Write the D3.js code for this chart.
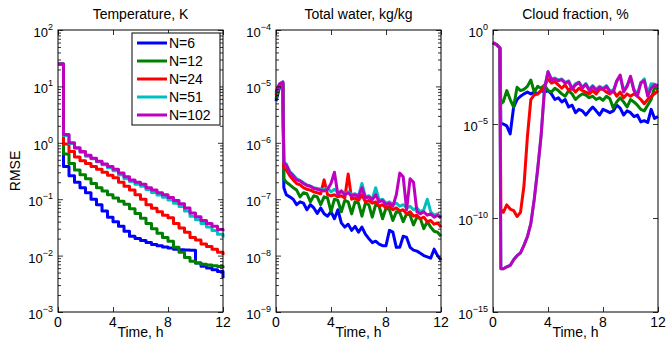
<!DOCTYPE html>
<html>
<head>
<meta charset="utf-8">
<script src="https://cdn.jsdelivr.net/npm/d3@7"></script>
<style>
body { margin: 0; background: #fff; }
text { font-family: "Liberation Sans", Arial, sans-serif; fill: #000; }
</style>
</head>
<body>
<script>
// Series labels and colours
var seriesNames = ["N=6", "N=12", "N=24", "N=51", "N=102"];
var seriesColors = ["#0000ff", "#008000", "#ff0000", "#00bfbf", "#bf00bf"];
var panelTitles = ["Temperature, K", "Total water, kg/kg", "Cloud fraction, %"];
var xTicks = [0, 4, 8, 12];

// Time grids (h)
var tTemp = [0, 0.4, 0.8, 1.2, 1.6, 2, 2.4, 2.8, 3.2, 3.6, 4, 4.4, 4.8, 5.2, 5.6, 6, 6.4, 6.8, 7.2, 7.6, 8, 8.4, 8.8,
  9.2, 9.6, 10, 10.4, 10.8, 11.2, 11.6, 12];
var tFine = [0, 0.25, 0.5, 0.57, 0.75, 1, 1.25, 1.5, 1.75, 2, 2.25, 2.5, 2.75, 3, 3.25, 3.5, 3.75, 4, 4.25, 4.5, 4.75, 5,
  5.25, 5.5, 5.75, 6, 6.25, 6.5, 6.75, 7, 7.25, 7.5, 7.75, 8, 8.25, 8.5, 8.75, 9, 9.25, 9.5, 9.75, 10, 10.25, 10.5, 10.75,
  11, 11.25, 11.5, 11.75, 12];

// Temperature RMSE, K
var tempN6 = [25, 0.38, 0.26, 0.2, 0.16, 0.13, 0.1, 0.08, 0.062, 0.048, 0.04, 0.033, 0.027, 0.022, 0.02, 0.0185, 0.017,
  0.0158, 0.015, 0.0142, 0.0136, 0.013, 0.0127, 0.0126, 0.0125, 0.0074, 0.0065, 0.006, 0.0056, 0.0052, 0.004];
var tempN12 = [25, 0.63, 0.43, 0.33, 0.27, 0.23, 0.19, 0.16, 0.14, 0.12, 0.105, 0.092, 0.081, 0.068, 0.056, 0.046, 0.037,
  0.03, 0.025, 0.021, 0.018, 0.014, 0.0115, 0.0093, 0.0079, 0.0074, 0.007, 0.0068, 0.0066, 0.0064, 0.006];
var tempN24 = [25, 0.95, 0.7, 0.56, 0.48, 0.43, 0.38, 0.34, 0.3, 0.265, 0.24, 0.2, 0.17, 0.145, 0.12, 0.1, 0.08, 0.069,
  0.06, 0.052, 0.047, 0.037, 0.031, 0.026, 0.021, 0.019, 0.016, 0.0145, 0.013, 0.0115, 0.0102];
var tempN51 = [25, 1.35, 0.97, 0.8, 0.68, 0.58, 0.52, 0.46, 0.41, 0.36, 0.32, 0.27, 0.23, 0.205, 0.185, 0.17, 0.148, 0.132,
  0.119, 0.108, 0.097, 0.085, 0.074, 0.062, 0.05, 0.043, 0.037, 0.032, 0.028, 0.024, 0.021];
var tempN102 = [25, 1.4, 1.0, 0.82, 0.7, 0.6, 0.53, 0.47, 0.42, 0.38, 0.34, 0.29, 0.25, 0.22, 0.2, 0.185, 0.16, 0.145,
  0.13, 0.12, 0.107, 0.095, 0.083, 0.07, 0.057, 0.049, 0.042, 0.037, 0.033, 0.029, 0.027];

// Total water RMSE, kg/kg
var waterN6 = [5.5e-6, 9.5e-6, 1.1e-5, 1.6e-7, 1.2e-7, 1.1e-7, 1.0e-7, 8e-8, 9e-8, 8.5e-8, 6.5e-8, 8e-8, 7e-8, 5.6e-8, 7e-8, 5.5e-8,
  5e-8, 6e-8, 4.5e-8, 6.5e-8, 3.8e-8, 3.2e-8, 3.6e-8, 2.8e-8, 3.3e-8, 2.6e-8, 3.2e-8, 2.4e-8, 2e-8, 1.7e-8, 1.8e-8, 1.6e-8,
  1.5e-8, 1.5e-8, 2.8e-8, 2.6e-8, 1.4e-8, 1.4e-8, 2.2e-8, 2.1e-8, 1.4e-8, 1.25e-8, 1.2e-8, 1.1e-8, 1.0e-8, 9.5e-9, 9e-9,
  1.3e-8, 1.0e-8, 8.3e-9];
var waterN12 = [6e-6, 1.0e-5, 1.1e-5, 2.3e-7, 2.0e-7, 1.8e-7, 1.6e-7, 1.45e-7, 1.1e-7, 1.3e-7, 1.25e-7, 9e-8, 1.15e-7, 1.1e-7, 8e-8,
  1.1e-7, 1.05e-7, 6e-8, 1.0e-7, 9.5e-8, 6e-8, 9.5e-8, 9e-8, 5.5e-8, 9e-8, 8.5e-8, 5e-8, 8.5e-8, 8e-8, 4.8e-8, 8e-8, 7.5e-8,
  4.5e-8, 7e-8, 6.5e-8, 4.2e-8, 6e-8, 5.8e-8, 4e-8, 5.5e-8, 5.2e-8, 3.5e-8, 4.8e-8, 4.5e-8, 3e-8, 4e-8, 3.2e-8, 2.7e-8,
  2.6e-8, 2.2e-8];
var waterN24 = [7e-6, 1.05e-5, 1.15e-5, 3.6e-7, 3.3e-7, 2.6e-7, 2.2e-7, 1.9e-7, 1.8e-7, 1.6e-7, 1.5e-7, 1.45e-7, 1.35e-7, 1.3e-7,
  1.25e-7, 2.2e-7, 1.2e-7, 1.15e-7, 1.2e-7, 1.1e-7, 1.15e-7, 1.05e-7, 2.8e-7, 1.0e-7, 1.05e-7, 9.5e-8, 1.2e-7, 9e-8, 9.5e-8,
  8.5e-8, 9e-8, 7.5e-8, 8e-8, 7e-8, 7.5e-8, 6.5e-8, 7e-8, 6.2e-8, 6.5e-8, 5.5e-8, 6e-8, 5e-8, 5.2e-8, 4.5e-8, 4.8e-8, 4e-8,
  4.2e-8, 3.6e-8, 3.8e-8, 3.2e-8];
var waterN51 = [7.5e-6, 1.1e-5, 1.2e-5, 4.6e-7, 4.2e-7, 3.1e-7, 2.7e-7, 2.3e-7, 2.15e-7, 1.95e-7, 1.8e-7, 1.7e-7, 1.6e-7, 1.55e-7,
  1.5e-7, 1.45e-7, 1.6e-7, 1.35e-7, 1.5e-7, 1.3e-7, 1.4e-7, 1.25e-7, 1.35e-7, 1.2e-7, 1.25e-7, 1.15e-7, 1.9e-7, 1.1e-7, 1.15e-7,
  1.0e-7, 1.6e-7, 9.5e-8, 1.0e-7, 8.5e-8, 9e-8, 8e-8, 8.5e-8, 7.5e-8, 8e-8, 7e-8, 7.5e-8, 6.5e-8, 7e-8, 6e-8, 6.5e-8, 1.0e-7,
  6e-8, 5.2e-8, 5.5e-8, 4.8e-8];
var waterN102 = [8e-6, 1.1e-5, 1.2e-5, 4.5e-7, 4e-7, 3e-7, 2.6e-7, 2.2e-7, 2.1e-7, 1.9e-7, 1.75e-7, 1.7e-7, 1.55e-7, 1.5e-7, 1.45e-7,
  1.4e-7, 1.5e-7, 1.9e-7, 3.0e-7, 1.2e-7, 1.4e-7, 1.2e-7, 1.3e-7, 1.15e-7, 1.2e-7, 1.1e-7, 1.6e-7, 1.05e-7, 1.1e-7, 9.8e-8,
  1.2e-7, 9e-8, 9.5e-8, 8e-8, 8.5e-8, 7.5e-8, 1.2e-7, 2.9e-7, 2.5e-7, 6.5e-8, 2.3e-7, 2.0e-7, 6e-8, 5.5e-8, 6e-8, 5.2e-8,
  5.5e-8, 4.8e-8, 5.2e-8, 4.6e-8];

// Cloud fraction RMSE, %
var cloudN6 = [0.21, 0.17, 0.11, 1.1e-5, 1e-5, 8e-6, 3e-6, 8e-5, 2e-4, 3e-4, 4e-4, 5e-4, 4e-4, 5e-4, 4e-4, 6e-4, 5e-4, 6e-4,
  4e-4, 2e-4, 2.5e-4, 1.5e-4, 2e-4, 8e-5, 1e-4, 4e-5, 6e-5, 5e-5, 3e-5, 5e-5, 8e-5, 5e-5, 3e-5, 6e-5, 5e-5, 4e-5, 5e-5,
  1e-4, 7e-5, 3e-5, 5e-5, 4e-5, 2.5e-5, 3e-5, 1.3e-5, 1.5e-5, 1.2e-5, 6e-5, 2e-5, 2.5e-5];
var cloudN12 = [0.21, 0.17, 0.11, 1.2e-4, 1.5e-4, 6e-4, 2e-4, 8e-5, 9e-4, 6e-4, 7e-4, 1e-3, 2.2e-3, 5e-4, 1e-3, 8e-4, 1.2e-3,
  6e-4, 5e-4, 8e-4, 6e-4, 4e-4, 3e-4, 6e-4, 4e-4, 2e-4, 3e-4, 4e-4, 3.5e-4, 2.5e-4, 3e-4, 2e-4, 2.5e-4, 1.8e-4, 3e-4, 2.2e-4,
  7e-5, 1.5e-4, 2.5e-4, 1.5e-4, 8e-5, 2e-4, 1.5e-4, 1e-4, 6e-5, 5e-5, 1e-4, 2e-4, 9e-4, 7e-4];
var cloudN24 = [0.21, 0.17, 0.11, 3e-10, 2e-10, 5e-10, 3e-10, 2.5e-10, 1.2e-10, 2e-10, 5e-9, 2e-6, 2e-4, 3.5e-4, 4e-4, 6e-4,
  1e-3, 2.5e-3, 1.5e-3, 1.8e-3, 1.2e-3, 8e-4, 1.2e-3, 6e-4, 9e-4, 5e-4, 8e-4, 6e-4, 5e-4, 4e-4, 6e-4, 4e-4, 7e-4, 7e-4,
  5e-4, 4e-4, 6e-4, 3e-4, 5e-4, 2.5e-4, 4e-4, 3e-4, 4e-4, 3e-4, 2e-4, 1.2e-4, 2e-4, 3e-4, 4e-4, 6e-4];
var cloudN51 = [0.21, 0.17, 0.11, 2e-13, 2e-13, 2.5e-13, 3e-13, 6e-13, 1e-12, 1.4e-12, 3.5e-12, 1e-11, 5e-11, 1e-9, 4e-8, 2.5e-6,
  8e-4, 6e-3, 2.5e-3, 2.8e-3, 2.2e-3, 2.5e-3, 1.6e-3, 2e-3, 8e-4, 1.4e-3, 1.7e-3, 9e-4, 1.4e-3, 7e-4, 1.1e-3, 7e-4, 1e-3,
  8e-4, 1.1e-3, 6e-4, 6e-4, 1.8e-3, 3.5e-3, 6e-4, 1.1e-3, 3e-3, 7e-4, 4e-4, 1.6e-3, 2.5e-3, 4e-4, 1.4e-3, 1.3e-3, 1.1e-3];
var cloudN102 = [0.21, 0.17, 0.11, 2e-13, 2e-13, 2.5e-13, 3e-13, 6e-13, 1e-12, 1.4e-12, 3.5e-12, 1e-11, 5e-11, 1e-9, 4e-8, 2.5e-6,
  8e-4, 6e-3, 2.2e-3, 2.5e-3, 2e-3, 2.3e-3, 1.5e-3, 1.8e-3, 7e-4, 1.2e-3, 1.6e-3, 8e-4, 1.3e-3, 6e-4, 1e-3, 6e-4, 9e-4,
  7e-4, 1e-3, 5e-4, 5e-4, 2e-3, 4e-3, 5e-4, 1e-3, 3.5e-3, 6e-4, 3e-4, 1.5e-3, 2e-3, 3e-4, 8e-4, 1.2e-3, 1e-3];

// Y axis decades per panel
var yExpRanges = [[-3, 2], [-9, -4], [-15, 0]];
var yMajorExps = [[-3, -2, -1, 0, 1, 2], [-9, -8, -7, -6, -5, -4], [-15, -10, -5, 0]];

var panels = [
  { times: tTemp, series: [tempN6, tempN12, tempN24, tempN51, tempN102], step: true, minor: true },
  { times: tFine, series: [waterN6, waterN12, waterN24, waterN51, waterN102], step: false, minor: true },
  { times: tFine, series: [cloudN6, cloudN12, cloudN24, cloudN51, cloudN102], step: false, minor: false }
];

// Chart params
var svgWidth = 670, svgHeight = 346;
var plotLefts = [58, 276, 493];
var plotWidth = 165;
var plotTop = 30, plotBottom = 312;

var svg = d3.select("body").append("svg")
  .attr("width", svgWidth)
  .attr("height", svgHeight);

panels.forEach(function (p, k) {
  var g = svg.append("g").attr("transform", `translate(${plotLefts[k]}, 0)`);

  var xScale = d3.scaleLinear().domain([0, 12]).range([0, plotWidth]);
  var yScale = d3.scaleLog()
    .domain([Math.pow(10, yExpRanges[k][0]), Math.pow(10, yExpRanges[k][1])])
    .range([plotBottom, plotTop]);

  // lines
  var line = d3.line()
    .x((d, i) => xScale(p.times[i]))
    .y(d => yScale(d))
    .curve(p.step ? d3.curveStepAfter : d3.curveLinear);

  p.series.forEach(function (s, j) {
    g.append("path")
      .datum(s)
      .attr("d", line)
      .attr("fill", "none")
      .attr("stroke", seriesColors[j])
      .attr("stroke-width", 3)
      .attr("stroke-linejoin", "round");
  });

  // ticks (inside, mirrored like matlab box)
  var majors = yMajorExps[k].map(e => Math.pow(10, e));
  var minors = [];
  if (p.minor) {
    for (var e = yExpRanges[k][0]; e < yExpRanges[k][1]; e++) {
      for (var m = 2; m <= 9; m++) minors.push(m * Math.pow(10, e));
    }
  }

  function tickAxis(axisFn, scale, values, size, tx, ty) {
    var a = g.append("g")
      .attr("transform", `translate(${tx}, ${ty})`)
      .call(axisFn(scale).tickValues(values).tickSize(size).tickFormat(""));
    a.select(".domain").remove();
    a.selectAll("line").attr("stroke", "#000").attr("stroke-width", 0.8);
  }

  tickAxis(d3.axisLeft, yScale, majors, -5, 0, 0);
  tickAxis(d3.axisRight, yScale, majors, -5, plotWidth, 0);
  if (minors.length) {
    tickAxis(d3.axisLeft, yScale, minors, -3, 0, 0);
    tickAxis(d3.axisRight, yScale, minors, -3, plotWidth, 0);
  }
  tickAxis(d3.axisBottom, xScale, xTicks, -5, 0, plotBottom);
  tickAxis(d3.axisTop, xScale, xTicks, -5, 0, plotTop);

  // box
  g.append("rect")
    .attr("x", 0).attr("y", plotTop)
    .attr("width", plotWidth).attr("height", plotBottom - plotTop)
    .attr("fill", "none").attr("stroke", "#000").attr("stroke-width", 1);

  // y tick labels 10^n
  yMajorExps[k].forEach(function (e) {
    var t = g.append("text")
      .attr("x", -5)
      .attr("y", yScale(Math.pow(10, e)) + 7)
      .attr("text-anchor", "end")
      .style("font-size", "13px");
    t.append("tspan").text("10");
    t.append("tspan").attr("dy", -7).style("font-size", "9px").text(String(e).replace("-", "\u2212"));
  });

  // x tick labels
  xTicks.forEach(function (v) {
    g.append("text")
      .attr("x", xScale(v))
      .attr("y", plotBottom + 15)
      .attr("text-anchor", "middle")
      .style("font-size", "14px")
      .text(v);
  });

  g.append("text")
    .attr("x", plotWidth / 2)
    .attr("y", 337)
    .attr("text-anchor", "middle")
    .style("font-size", "14px")
    .text("Time, h");

  g.append("text")
    .attr("x", plotWidth / 2)
    .attr("y", 19)
    .attr("text-anchor", "middle")
    .style("font-size", "14px")
    .text(panelTitles[k]);
});

svg.append("text")
  .attr("transform", "rotate(-90)")
  .attr("x", -(plotTop + plotBottom) / 2)
  .attr("y", 20)
  .attr("text-anchor", "middle")
  .style("font-size", "14px")
  .text("RMSE");

// legend
var legend = svg.append("g");
legend.append("rect")
  .attr("x", 132).attr("y", 33)
  .attr("width", 88).attr("height", 92)
  .attr("fill", "#fff").attr("stroke", "#000").attr("stroke-width", 1);

seriesNames.forEach(function (name, j) {
  var yy = 43 + j * 18;
  legend.append("line")
    .attr("x1", 137).attr("x2", 167)
    .attr("y1", yy).attr("y2", yy)
    .attr("stroke", seriesColors[j])
    .attr("stroke-width", 3);
  legend.append("text")
    .attr("x", 169).attr("y", yy + 5)
    .style("font-size", "14px")
    .text(name);
});
</script>
</body>
</html>
